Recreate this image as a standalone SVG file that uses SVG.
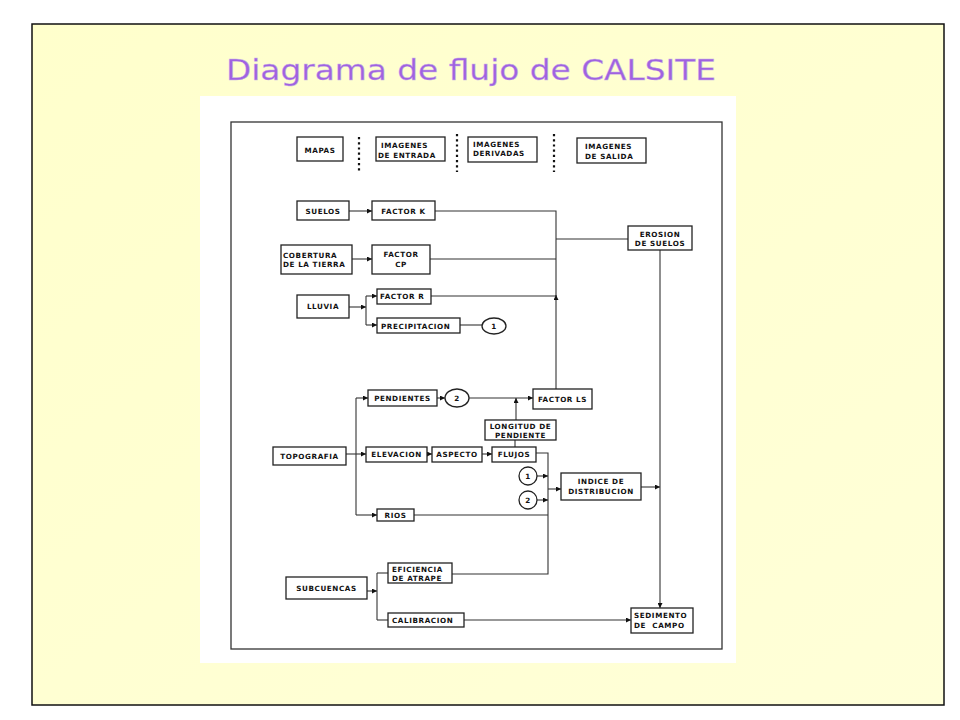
<svg xmlns="http://www.w3.org/2000/svg" width="960" height="720" viewBox="0 0 960 720">
<defs>
  <linearGradient id="bg" x1="0" y1="0" x2="1" y2="1">
    <stop offset="0" stop-color="#FFFFCC"/>
    <stop offset="1" stop-color="#FFFFD8"/>
  </linearGradient>
  <marker id="ah" viewBox="0 0 6 6" refX="6" refY="3" markerWidth="5" markerHeight="5" markerUnits="userSpaceOnUse" orient="auto">
    <path d="M0,0 L6,3 L0,6 Z" fill="#111"/>
  </marker>
</defs>
<style>
  .box { fill: #fff; stroke: #222; stroke-width: 1.3; }
  .ln { fill: none; stroke: #333; stroke-width: 1.1; }
  .arr { fill: none; stroke: #333; stroke-width: 1.1; marker-end: url(#ah); }
  .dot { stroke: #111; stroke-width: 2.2; stroke-dasharray: 2.2 3; }
  .t { font-family: "DejaVu Sans", "Liberation Sans", sans-serif; font-weight: bold; font-size: 7.2px; fill: #111; letter-spacing: 0.6px; }
  .c { text-anchor: middle; }
</style>
<rect x="0" y="0" width="960" height="720" fill="#fff"/>
<rect x="32" y="24" width="912" height="681" fill="url(#bg)" stroke="#111" stroke-width="1.5"/>
<g id="title">
  <text x="471" y="80" text-anchor="middle" font-family="DejaVu Sans, sans-serif" font-size="29" fill="#A062E0" stroke="#C9B5E6" stroke-width="0.4" textLength="490" lengthAdjust="spacingAndGlyphs">Diagrama de flujo de CALSITE</text>
</g>
<rect x="200" y="96" width="536" height="567" fill="#fff"/>
<rect x="231" y="122" width="491" height="527" fill="none" stroke="#333" stroke-width="1.3"/>

<g id="separators">
  <line class="dot" x1="359" y1="137" x2="359" y2="173"/>
  <line class="dot" x1="457" y1="134" x2="457" y2="172"/>
  <line class="dot" x1="554" y1="134" x2="554" y2="172"/>
</g>

<g id="connectors">
  <line class="arr" x1="349" y1="211" x2="372" y2="211"/>
  <polyline class="ln" points="435,211 556,211 556,298"/>
  <line class="arr" x1="556" y1="389" x2="556" y2="295"/>
  <line class="ln" x1="430" y1="259" x2="556" y2="259"/>
  <line class="ln" x1="431" y1="296" x2="556" y2="296"/>
  <line class="ln" x1="556" y1="239" x2="628" y2="239"/>
  <line class="arr" x1="352" y1="259" x2="372" y2="259"/>
  <line class="arr" x1="349" y1="307" x2="366" y2="307"/>
  <line class="ln" x1="366" y1="296" x2="366" y2="325"/>
  <line class="arr" x1="366" y1="296" x2="377" y2="296"/>
  <line class="arr" x1="366" y1="325" x2="377" y2="325"/>
  <line class="ln" x1="460" y1="325" x2="482" y2="325"/>
  <line class="arr" x1="346" y1="454" x2="366" y2="454"/>
  <line class="ln" x1="356" y1="398" x2="356" y2="515"/>
  <line class="arr" x1="356" y1="398" x2="368" y2="398"/>
  <line class="arr" x1="356" y1="515" x2="377" y2="515"/>
  <line class="arr" x1="437" y1="398" x2="445" y2="398"/>
  <line class="arr" x1="469" y1="398" x2="533" y2="398"/>
  <line class="arr" x1="516" y1="420" x2="516" y2="398"/>
  <line class="ln" x1="515" y1="440" x2="515" y2="447"/>
  <line class="arr" x1="427" y1="454" x2="432" y2="454"/>
  <line class="arr" x1="482" y1="454" x2="492" y2="454"/>
  <polyline class="ln" points="536,453 548,453 548,574 452,574"/>
  <line class="ln" x1="414" y1="515" x2="548" y2="515"/>
  <line class="arr" x1="537" y1="476" x2="548" y2="476"/>
  <line class="arr" x1="537" y1="500" x2="548" y2="500"/>
  <line class="arr" x1="548" y1="489" x2="561" y2="489"/>
  <line class="arr" x1="641" y1="487" x2="660" y2="487"/>
  <line class="arr" x1="660" y1="250" x2="660" y2="608"/>
  <line class="arr" x1="367" y1="591" x2="377" y2="591"/>
  <line class="ln" x1="377" y1="573" x2="377" y2="620"/>
  <line class="ln" x1="377" y1="573" x2="388" y2="573"/>
  <line class="ln" x1="377" y1="620" x2="388" y2="620"/>
  <line class="arr" x1="464" y1="620" x2="631" y2="620"/>
</g>

<g id="mapas"><rect class="box" x="297" y="137" width="46" height="24"/><text class="t c" x="320" y="152.5" font-size="9" letter-spacing="0.3">MAPAS</text></g>
<g id="img-entrada"><rect class="box" x="376" y="137" width="69" height="24"/><text class="t" x="381" y="148">IMAGENES</text><text class="t" x="378" y="158">DE ENTRADA</text></g>
<g id="img-derivadas"><rect class="box" x="468" y="137" width="69" height="25"/><text class="t" x="473" y="147">IMAGENES</text><text class="t" x="473" y="156">DERIVADAS</text></g>
<g id="img-salida"><rect class="box" x="577" y="138" width="69" height="25"/><text class="t" x="585" y="148.5">IMAGENES</text><text class="t" x="585" y="158.5">DE SALIDA</text></g>

<g id="suelos"><rect class="box" x="297" y="201" width="52" height="19"/><text class="t c" x="323" y="213.5">SUELOS</text></g>
<g id="factor-k"><rect class="box" x="372" y="201" width="63" height="19"/><text class="t c" x="403.5" y="213.5">FACTOR K</text></g>
<g id="cobertura"><rect class="box" x="281" y="245" width="71" height="29"/><text class="t" x="283" y="257.5">COBERTURA</text><text class="t" x="283" y="267">DE LA TIERRA</text></g>
<g id="factor-cp"><rect class="box" x="372" y="245" width="58" height="29"/><text class="t c" x="401" y="257">FACTOR</text><text class="t c" x="401" y="266.5">CP</text></g>
<g id="erosion"><rect class="box" x="628" y="226" width="64" height="24"/><text class="t c" x="660" y="236.5">EROSION</text><text class="t c" x="660" y="245.5">DE SUELOS</text></g>
<g id="lluvia"><rect class="box" x="297" y="295" width="52" height="23"/><text class="t c" x="323" y="309">LLUVIA</text></g>
<g id="factor-r"><rect class="box" x="377" y="289" width="54" height="15"/><text class="t" x="380" y="299">FACTOR R</text></g>
<g id="precipitacion"><rect class="box" x="377" y="318" width="83" height="15"/><text class="t" x="381" y="328.5">PRECIPITACION</text></g>
<g id="c1a"><ellipse class="box" cx="494" cy="326" rx="12" ry="8"/><text class="t c" x="494" y="329">1</text></g>
<g id="pendientes"><rect class="box" x="368" y="390" width="69" height="16"/><text class="t c" x="402.5" y="401">PENDIENTES</text></g>
<g id="c2a"><ellipse class="box" cx="457" cy="398" rx="12" ry="9"/><text class="t c" x="457" y="401">2</text></g>
<g id="factor-ls"><rect class="box" x="533" y="389" width="59" height="20"/><text class="t c" x="562.5" y="402">FACTOR LS</text></g>
<g id="longitud"><rect class="box" x="485" y="420" width="71" height="20"/><text class="t c" x="520.5" y="428.5">LONGITUD DE</text><text class="t c" x="520.5" y="437.5">PENDIENTE</text></g>
<g id="topografia"><rect class="box" x="273" y="447" width="73" height="18"/><text class="t c" x="309.5" y="458.5">TOPOGRAFIA</text></g>
<g id="elevacion"><rect class="box" x="366" y="447" width="61" height="15"/><text class="t c" x="396.5" y="457">ELEVACION</text></g>
<g id="aspecto"><rect class="box" x="432" y="447" width="50" height="15"/><text class="t c" x="457" y="457">ASPECTO</text></g>
<g id="flujos"><rect class="box" x="492" y="447" width="44" height="15"/><text class="t c" x="514" y="457">FLUJOS</text></g>
<g id="c1b"><circle class="box" cx="528" cy="476" r="9"/><text class="t c" x="528" y="479">1</text></g>
<g id="c2b"><circle class="box" cx="528" cy="500" r="9"/><text class="t c" x="528" y="503">2</text></g>
<g id="rios"><rect class="box" x="377" y="509" width="37" height="12"/><text class="t c" x="395.5" y="518">RIOS</text></g>
<g id="indice"><rect class="box" x="561" y="473" width="80" height="27"/><text class="t c" x="601" y="484">INDICE DE</text><text class="t c" x="601" y="494">DISTRIBUCION</text></g>
<g id="subcuencas"><rect class="box" x="286" y="577" width="81" height="22"/><text class="t c" x="326.5" y="590.5">SUBCUENCAS</text></g>
<g id="eficiencia"><rect class="box" x="388" y="563" width="64" height="20"/><text class="t" x="392" y="571.5">EFICIENCIA</text><text class="t" x="392" y="581">DE ATRAPE</text></g>
<g id="calibracion"><rect class="box" x="388" y="613" width="76" height="14"/><text class="t" x="392" y="623">CALIBRACION</text></g>
<g id="sedimento"><rect class="box" x="631" y="608" width="62" height="25"/><text class="t" x="634" y="618">SEDIMENTO</text><text class="t" x="634" y="627.5" xml:space="preserve">DE  CAMPO</text></g>
</svg>
